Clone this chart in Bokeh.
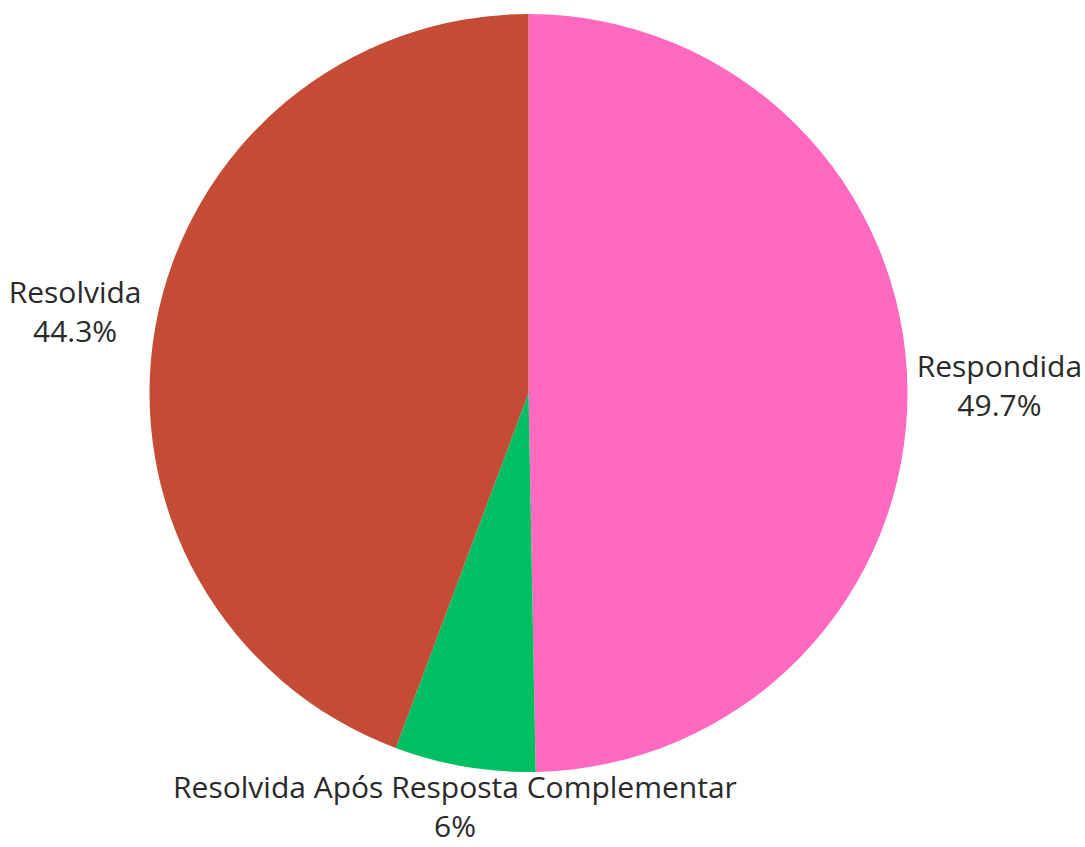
import math
import numpy as np
from bokeh.plotting import figure
from bokeh.models import ColumnDataSource, Range1d
from bokeh.core.properties import value
from bokeh.embed import file_html
from bokeh.resources import INLINE

# ---- data ----
categories = ["Respondida", "Resolvida Após Resposta Complementar", "Resolvida"]
shares = [49.7, 6.0, 44.3]
pct_labels = ["49.7%", "6%", "44.3%"]
colors = ["#FF69C0", "#00BF63", "#C44B35"]

# ---- layout ----
W, H = 1085, 847
CX, CY, R = 528.0, 847 - 392.5, 379.0
FS = 30
LINE_GAP = 39
LABEL_GAP = 9
label_nudge_y = [4.5, 3.0, 11.5]   # small upward nudges (px)
label_nudge_x = [0.0, 0.0, -7.0]   # small horizontal nudges (px)
TEXT_COLOR = "#2a2a2a"
FONT = "Open Sans"

# rough Open Sans advance widths (em) for width estimation
adv = {"a": .556, "c": .48, "d": .613, "e": .561, "i": .258, "l": .258, "m": .927,
       "n": .613, "o": .6, "p": .613, "r": .409, "s": .477, "t": .353, "v": .5,
       "ó": .6, "R": .625, "A": .633, "C": .618, " ": .26}


def text_w(s):
    return sum(adv.get(ch, .56) for ch in s) * FS


vals = np.array(shares, dtype=float)
frac = vals / vals.sum()
cum = np.cumsum(frac)
start = math.pi / 2 - 2 * math.pi * (cum - frac)
end = math.pi / 2 - 2 * math.pi * cum
mid = (start + end) / 2

src = ColumnDataSource(dict(x=[CX] * len(vals), y=[CY] * len(vals),
                            start=start, end=end, color=colors))

p = figure(width=W, height=H, x_range=Range1d(0, W), y_range=Range1d(0, H),
           output_backend="svg", toolbar_location=None, min_border=0,
           background_fill_color="white", border_fill_color="white")
p.axis.visible = False
p.xgrid.visible = False
p.ygrid.visible = False
p.outline_line_color = None

p.wedge(x="x", y="y", radius=R, start_angle="start", end_angle="end",
        direction="clock", fill_color="color", line_color=None, source=src)

lx, ly1, ly2 = [], [], []
for i, th in enumerate(mid):
    c, s = math.cos(th), math.sin(th)
    px, py = CX + R * c, CY + R * s
    w = max(text_w(categories[i]), text_w(pct_labels[i]))
    h = LINE_GAP + FS
    bx = px + c * LABEL_GAP + math.copysign(1, c) * (w / 2) * c * c + label_nudge_x[i]
    by = py + s * LABEL_GAP + math.copysign(1, s) * (h / 2) * s * s + label_nudge_y[i]
    lx.append(bx)
    ly1.append(by + LINE_GAP / 2)
    ly2.append(by - LINE_GAP / 2)

lab = ColumnDataSource(dict(x=lx, y1=ly1, y2=ly2, name=categories, pct=pct_labels))
for ycol, tcol in (("y1", "name"), ("y2", "pct")):
    p.text(x="x", y=ycol, text=tcol, source=lab, text_align="center",
           text_baseline="middle", text_font=value(FONT),
           text_font_size=f"{FS}px", text_color=TEXT_COLOR)

open("out.html", "w").write(file_html(p, INLINE))
